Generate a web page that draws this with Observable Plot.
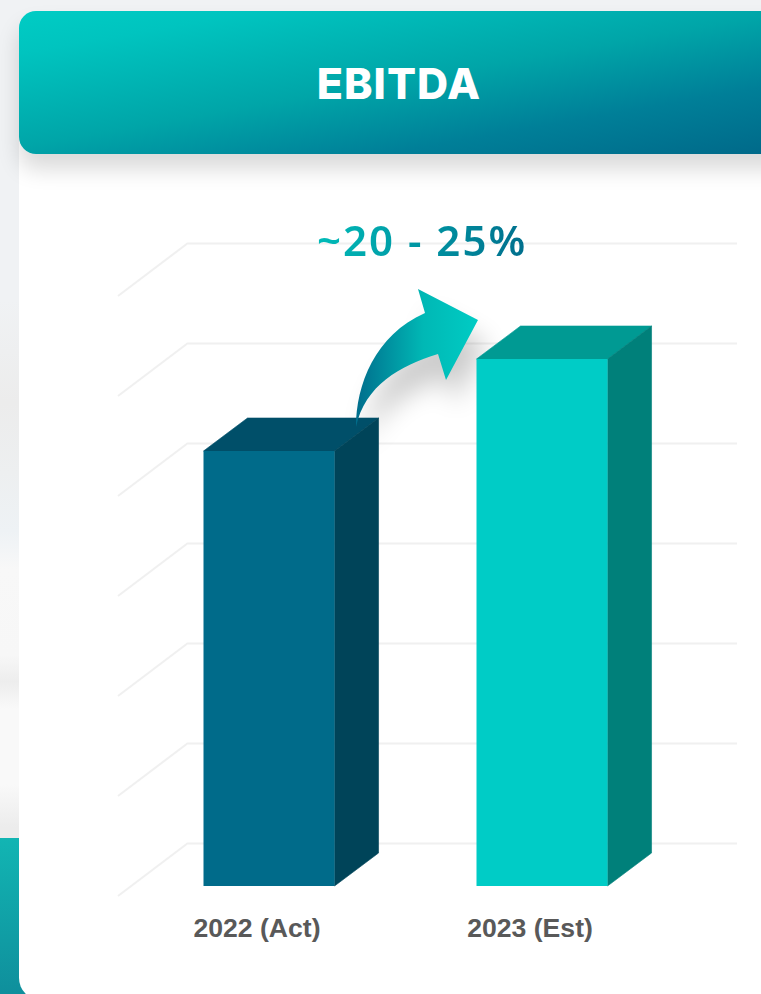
<!DOCTYPE html>
<html><head><meta charset="utf-8">
<script src="https://cdn.jsdelivr.net/npm/d3@7"></script>
<script src="https://cdn.jsdelivr.net/npm/@observablehq/plot@0.6"></script>
<style>
html,body{margin:0;padding:0;width:761px;height:994px;overflow:hidden;background:#f0f2f4}
#strip{position:absolute;left:0;top:838px;width:40px;height:156px;background:linear-gradient(180deg,#12b5b3,#0f8f9c)}
#photo{position:absolute;left:0;top:300px;width:19px;height:538px;background:linear-gradient(180deg,#f0f2f4 0,#ececec 19%,#edeff0 32%,#eef2f5 43%,#f8f8f8 50%,#f7f7f7 66%,#ededed 71%,#f9f9f9 76%,#f9f9f9 90%,#ececec 98%)}
#card{position:absolute;left:19px;top:60px;width:800px;height:940px;background:#fff;border-bottom-left-radius:22px}
#head{position:absolute;left:19px;top:11px;width:800px;height:143px;border-radius:17px;background:linear-gradient(170deg,#00ccc4 0%,#00c4bf 15%,#00a5a8 48%,#007f98 73%,#006a8a 96%);box-shadow:0 15px 22px rgba(0,0,0,.15)}
#title{position:absolute;left:0;width:761px;top:56px;text-align:center;margin:0;padding-left:37px;box-sizing:border-box;font:800 43px/54px Inter,sans-serif;letter-spacing:1px;color:#fff}
#chart{position:absolute;left:0;top:0}
#growth{position:absolute;left:317px;top:212px;margin:0;font:600 42px/56px "Noto Sans",sans-serif;letter-spacing:2px;white-space:nowrap;background:linear-gradient(100deg,#00bdb9,#006d8c);-webkit-background-clip:text;background-clip:text;color:transparent}
</style></head><body>
<div id="photo"></div><div id="strip"></div><div id="card"></div><div id="head"></div>
<h1 id="title">EBITDA</h1>
<div id="chart"></div>
<p id="growth">~20 - 25%</p>
<script>
// Data (one unit = one gridline step)
const categories = ["2022 (Act)", "2023 (Est)"];
const values = [4.35, 5.27];
const gridLevels = [0, 1, 2, 3, 4, 5, 6];
const fronts = ["#006b8a", "#00ccc6"];
const sides = ["#004459", "#00807a"];
const tops = ["#004f69", "#009a93"];

const rows = categories.map((name, i) => ({name, value: values[i], front: fronts[i], side: sides[i], top: tops[i]}));
const depth = [44, 33];       // 3-D extrusion of a bar, px
const gridShift = -43;        // back plane of the grid relative to the bar base, px
const gridDepth = [70, 53];   // receding left wall of the grid, px
const gridLeft = 188;

function svgEl(name, attrs) {
  const e = document.createElementNS("http://www.w3.org/2000/svg", name);
  for (const k in attrs) e.setAttribute(k, attrs[k]);
  return e;
}

// Left wall of the grid, placed from the y scale
const gridWall = (index, {y}) => {
  const g = svgEl("g", {});
  for (const lv of gridLevels) {
    const py = y(lv) + gridShift;
    g.append(svgEl("line", {x1: gridLeft, y1: py, x2: gridLeft - gridDepth[0], y2: py + gridDepth[1], stroke: "#f0f0f0", "stroke-width": 2}));
  }
  return g;
};

// Arrow anchored on the tops of the two bars
function arrowPath(x, y) {
  const ox = x(categories[0]) + 152.5, oy = y(values[0]) - 24;
  const pts = `M0,0 C0,-42 19,-92 69,-114 L62,-138 L122,-107 L90,-47 L82,-73 C44,-61 9,-42 0,0 Z`;
  return {d: pts, transform: `translate(${ox},${oy})`};
}
const arrowShadow = (index, {x, y}) => {
  const svg = svgEl("g", {});
  const a = arrowPath(x, y);
  svg.append(svgEl("path", {...a, fill: "#000", opacity: .2, filter: "url(#arrowBlur)", transform: a.transform + " translate(9,24)"}));
  return svg;
};
const arrow = (index, {x, y}) => {
  const g = svgEl("g", {});
  const defs = svgEl("defs", {});
  const blur = svgEl("filter", {id: "arrowBlur", x: "-40%", y: "-40%", width: "180%", height: "180%"});
  blur.append(svgEl("feGaussianBlur", {stdDeviation: 13}));
  const grad = svgEl("linearGradient", {id: "arrowGrad", x1: 0, x2: 1, y1: 0, y2: 0});
  grad.append(svgEl("stop", {offset: "0%", "stop-color": "#006d8c"}), svgEl("stop", {offset: "55%", "stop-color": "#00b8b5"}), svgEl("stop", {offset: "100%", "stop-color": "#00ccc4"}));
  defs.append(blur, grad);
  g.append(defs, svgEl("path", {...arrowPath(x, y), fill: "url(#arrowGrad)"}));
  return g;
};

// Extruded faces of each bar, from the x and y scales
const faces = (index, {x, y}) => {
  const g = svgEl("g", {});
  for (const r of rows) {
    const l = x(r.name), w = x.bandwidth(), t = y(r.value), b = y(0), [dx, dy] = depth;
    g.append(svgEl("path", {d: `M${l},${t} l${dx},${-dy} h${w} l${-dx},${dy} Z`, fill: r.top, stroke: r.top, "stroke-width": .6}));
    g.append(svgEl("path", {d: `M${l + w},${t} l${dx},${-dy} V${b - dy} l${-dx},${dy} Z`, fill: r.side, stroke: r.side, "stroke-width": .6}));
  }
  return g;
};

const chart = Plot.plot({
  width: 761, height: 994,
  marginTop: 0, marginRight: 0, marginBottom: 108, marginLeft: 0,
  style: {background: "transparent", overflow: "visible"},
  x: {domain: categories, range: [61.54, 749.5], padding: 0.52, round: false, label: null},
  y: {domain: [0, 8.86], range: [886, 0], axis: null},
  marks: [
    Plot.ruleY(gridLevels, {dy: gridShift, insetLeft: gridLeft, insetRight: 24, stroke: "#f0f0f0", strokeWidth: 2}),
    gridWall,
    arrowShadow,
    faces,
    Plot.barY(rows, {x: "name", y: "value", fill: "front"}),
    arrow,
    Plot.axisX({tickSize: 0, tickPadding: 32, dx: -12.5, fontSize: 26.6, fontWeight: 700, fontFamily: "Liberation Sans", color: "#595959", label: null})
  ]
});
document.getElementById("chart").append(chart);
</script>
</body></html>
